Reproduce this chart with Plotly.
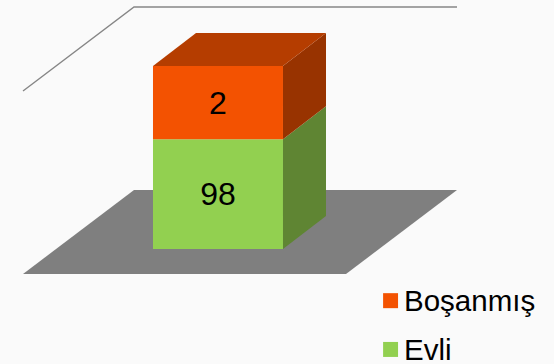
import plotly.graph_objects as go

# Data
categories = ["Evli", "Boşanmış"]
value_labels = [98, 2]
drawn_heights = [60, 40]  # front-face heights of the segments as drawn (share of the stack)
front_colors = ["#92D050", "#F35201"]
side_colors = ["#5F8533", "#983300"]
top_color = "#B53D00"
floor_color = "#7F7F7F"
wall_color = "#868686"
bg = "#FAFAFA"

# Axis layout
x_range = [-1.677, 2.585]
y_range = [-62.84, 136.07]
bar_w = 1.0
depth_x, depth_y = 0.331, 18.0
floor_left, floor_right, floor_front = -1.5, 0.985, -13.66
floor_dx, floor_dy = 0.854, 45.9
wall_h = 100

fig = go.Figure()


def poly(xs, ys):
    return "M" + " L".join(f"{a},{b}" for a, b in zip(xs, ys)) + " Z"


# floor and wall outline sit below every trace
fig.add_shape(type="path", layer="below", fillcolor=floor_color, line=dict(width=0),
              path=poly([floor_left, floor_right, floor_right + floor_dx, floor_left + floor_dx],
                        [floor_front, floor_front, floor_front + floor_dy, floor_front + floor_dy]))
top = floor_front + wall_h
fig.add_trace(go.Scatter(
    x=[floor_left, floor_left + floor_dx, floor_right + floor_dx],
    y=[top, top + floor_dy, top + floor_dy],
    mode="lines", line=dict(color=wall_color, width=1.4), showlegend=False, hoverinfo="skip"))

# side and top faces
L, R = -bar_w / 2, bar_w / 2
base = 0
for h, sc in zip(drawn_heights, side_colors):
    fig.add_trace(go.Scatter(
        x=[R, R + depth_x, R + depth_x, R, R],
        y=[base, base + depth_y, base + h + depth_y, base + h, base],
        fill="toself", fillcolor=sc, mode="none", showlegend=False, hoverinfo="skip"))
    base += h
fig.add_trace(go.Scatter(
    x=[L, R, R + depth_x, L + depth_x, L],
    y=[base, base, base + depth_y, base + depth_y, base],
    fill="toself", fillcolor=top_color, mode="none", showlegend=False, hoverinfo="skip"))

# front faces
base = 0
for name, v, h, c in zip(categories, value_labels, drawn_heights, front_colors):
    fig.add_trace(go.Bar(
        x=[0], y=[h], base=[base], width=[bar_w], marker=dict(color=c, line=dict(width=0)),
        text=[str(v)], textposition="inside", insidetextanchor="middle", textangle=0,
        insidetextfont=dict(family="Liberation Sans", size=32, color="#000000"),
        showlegend=False, name=name))
    base += h

# legend: swatch and label pairs placed in page fractions
legend_rows = [(1, 0.826), (0, 0.960)]
for i, ypos in legend_rows:
    fig.add_shape(type="rect", xref="paper", yref="paper", fillcolor=front_colors[i], line=dict(width=0),
                  x0=0.6915, x1=0.7185, y0=1 - ypos - 0.0206, y1=1 - ypos + 0.0206)
    fig.add_annotation(xref="paper", yref="paper", x=0.731, y=1 - ypos, xanchor="left", yanchor="middle",
                       text=categories[i], showarrow=False, xshift=-3,
                       font=dict(family="Liberation Sans", size=29.5, color="#000000"))

fig.update_layout(
    width=554, height=364, margin=dict(l=0, r=0, t=0, b=0),
    paper_bgcolor=bg, plot_bgcolor=bg, barmode="overlay", showlegend=False,
    xaxis=dict(range=x_range, visible=False, fixedrange=True),
    yaxis=dict(range=y_range, visible=False, fixedrange=True),
)
fig.write_html("out.html", config={"displayModeBar": False},
               post_script="document.body.style.margin='0';document.body.style.background='#FAFAFA';")
